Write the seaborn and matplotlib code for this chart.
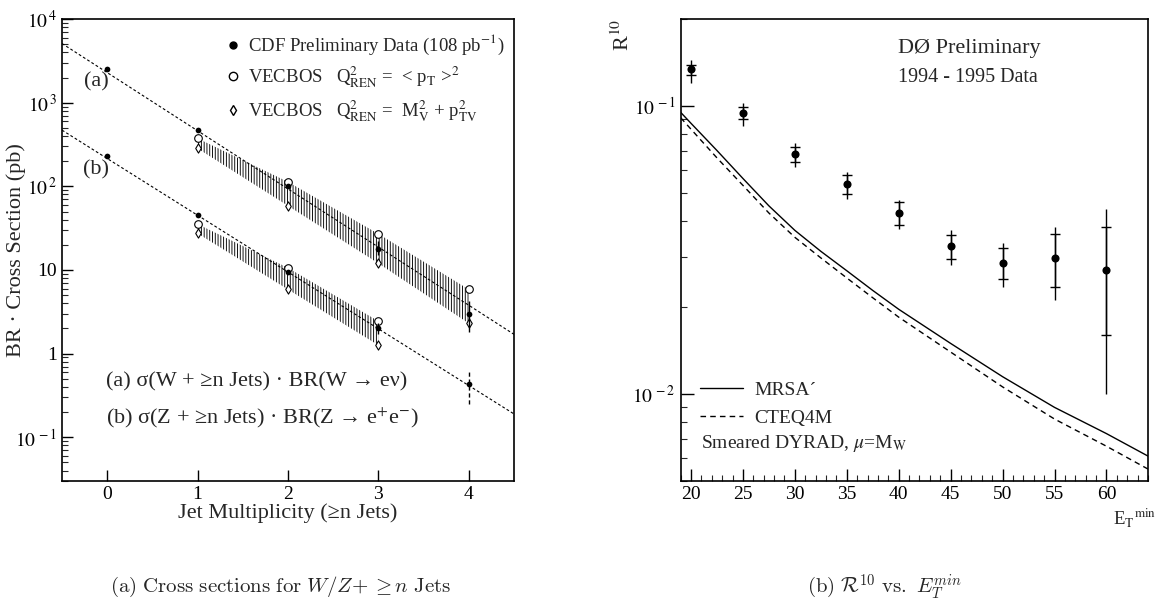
import numpy as np
import pandas as pd
import matplotlib
matplotlib.use("Agg")
import matplotlib.pyplot as plt
from matplotlib.lines import Line2D
import seaborn as sns

# ---------------- left panel data ----------------
n_jets = [0, 1, 2, 3, 4]
w_data = [2500, 470, 100, 18, 3.0]
w_lo = [2500, 470, 100, 15, 1.8]
w_hi = [2500, 470, 100, 22, 4.2]
z_data = [232, 45, 9.5, 2.0, 0.43]
z_lo = [232, 45, 9.5, 1.7, 0.25]
z_hi = [232, 45, 9.5, 2.3, 0.60]

n_band_w = [1, 2, 3, 4]
w_vec_pt = [374, 113, 27, 5.85]
w_vec_mv = [284, 58.5, 12, 2.3]
n_band_z = [1, 2, 3]
z_vec_pt = [35.3, 10.6, 2.44]
z_vec_mv = [27.4, 5.85, 1.26]

fit_x = [-0.5, 4.5]
w_fit = [5100, 1.7]
z_fit = [470, 0.19]

left_yticks = [1e-1, 1, 10, 1e2, 1e3, 1e4]
left_yticklabels = [r"$10^{\,-1}$", "1", "10", r"$10^{\,2}$", r"$10^{\,3}$", r"$10^{\,4}$"]

# ---------------- right panel data ----------------
et_min = [20, 25, 30, 35, 40, 45, 50, 55, 60]
r10 = [0.134, 0.0943, 0.0681, 0.0536, 0.0424, 0.0327, 0.0284, 0.0297, 0.0270]
stat_hi = [0.1388, 0.099, 0.0722, 0.0576, 0.0463, 0.0357, 0.0322, 0.0359, 0.0380]
stat_lo = [0.1282, 0.0901, 0.0641, 0.0495, 0.0386, 0.0295, 0.0250, 0.0235, 0.0160]
tot_hi = [0.1445, 0.1026, 0.0746, 0.0591, 0.0472, 0.0371, 0.0334, 0.0381, 0.0439]
tot_lo = [0.1205, 0.0852, 0.0615, 0.0474, 0.0373, 0.0280, 0.0236, 0.0212, 0.0100]

et_curve = [19, 20, 22.5, 25, 27.5, 30, 32.5, 35, 37.5, 40, 45, 50, 55, 60, 64]
mrsa = [0.095, 0.087, 0.070, 0.056, 0.045, 0.037, 0.0313, 0.0268, 0.0229, 0.0197,
        0.0150, 0.0115, 0.0090, 0.0073, 0.0061]
cteq = [0.091, 0.083, 0.066, 0.053, 0.0425, 0.035, 0.0297, 0.0253, 0.0216, 0.0185,
        0.0140, 0.0106, 0.0082, 0.0066, 0.0055]

right_xticks = [20, 25, 30, 35, 40, 45, 50, 55, 60]
right_yticks = [1e-2, 1e-1]
right_yticklabels = [r"$10^{\,-2}$", r"$10^{\,-1}$"]

# ---------------- style ----------------
sns.set_theme(style="ticks")
plt.rcParams["font.family"] = ["Liberation Serif", "DejaVu Serif"]
plt.rcParams["mathtext.fontset"] = "stix"
plt.rcParams["hatch.linewidth"] = 0.65
plt.rcParams["axes.linewidth"] = 1.2

fig = plt.figure(figsize=(11.61, 6.07), dpi=100)
axL = fig.add_axes([62 / 1161, 0.2076, 452 / 1161, 0.761])
axR = fig.add_axes([680.6 / 1161, 0.2076, 467.4 / 1161, 0.761])

FS = 14

# ======== left panel ========
axL.set_yscale("log")
for fy in (w_fit, z_fit):
    sns.lineplot(x=fit_x, y=fy, ax=axL, color="black", lw=0.8,
                 linestyle=(0, (2.5, 2)), legend=False)
axL.fill_between(n_band_w, w_vec_pt, w_vec_mv, facecolor="none", edgecolor="black",
                 hatch="||||||", linewidth=0)
axL.fill_between(n_band_z, z_vec_pt, z_vec_mv, facecolor="none", edgecolor="black",
                 hatch="||||||", linewidth=0)
dfw = pd.DataFrame({"n": n_band_w, "pt": w_vec_pt, "mv": w_vec_mv})
dfz = pd.DataFrame({"n": n_band_z, "pt": z_vec_pt, "mv": z_vec_mv})
for d in (dfw, dfz):
    sns.scatterplot(data=d, x="n", y="pt", ax=axL, marker="o", s=30,
                    facecolor="white", edgecolor="black", linewidth=0.8, zorder=4)
    sns.scatterplot(data=d, x="n", y="mv", ax=axL, marker="d", s=22,
                    facecolor="white", edgecolor="black", linewidth=0.8, zorder=4)
wd = np.array(w_data); zd = np.array(z_data)
axL.errorbar(n_jets, w_data, yerr=[wd - np.array(w_lo), np.array(w_hi) - wd],
             fmt="none", ecolor="black", elinewidth=1.0, zorder=5)
eb = axL.errorbar(n_jets, z_data, yerr=[zd - np.array(z_lo), np.array(z_hi) - zd],
                  fmt="none", ecolor="black", elinewidth=1.0, zorder=5)
eb[2][0].set_linestyle((0, (3, 2)))
sns.scatterplot(x=n_jets, y=w_data, ax=axL, color="black", s=17, linewidth=0, zorder=6)
sns.scatterplot(x=n_jets, y=z_data, ax=axL, color="black", s=17, linewidth=0, zorder=6)

axL.set_xlim(-0.5, 4.5)
axL.set_ylim(0.03, 1e4)
axL.set_xticks(n_jets)
axL.set_xticklabels([str(v) for v in n_jets])
axL.set_yticks(left_yticks)
axL.set_yticklabels(left_yticklabels)
axL.tick_params(axis="both", which="major", direction="in", length=8, width=1.0,
                labelsize=FS, colors="black")
axL.tick_params(axis="y", which="minor", direction="in", length=4, width=0.8)
axL.tick_params(axis="x", which="minor", bottom=False)
axL.set_xlabel("Jet Multiplicity (\u2265n Jets)", fontsize=16)
axL.set_ylabel("BR \u00b7 Cross Section (pb)", fontsize=16)
axL.xaxis.set_label_coords(0.5, -0.048)
axL.yaxis.set_label_coords(-0.08, 0.5)
for s in axL.spines.values():
    s.set_color("black")

handles = [
    Line2D([], [], marker="o", color="black", linestyle="none", markersize=5),
    Line2D([], [], marker="o", markerfacecolor="white", markeredgecolor="black",
           linestyle="none", markersize=6),
    Line2D([], [], marker="d", markerfacecolor="white", markeredgecolor="black",
           linestyle="none", markersize=5),
]
labels = [
    r"CDF Preliminary Data (108 pb$^{-1}$)",
    r"VECBOS   Q$^{2}_{\mathrm{REN}}$ =  < p$_{\mathrm{T}}$ >$^{2}$",
    r"VECBOS   Q$^{2}_{\mathrm{REN}}$ =  M$^{2}_{\mathrm{V}}$ + p$^{2}_{\mathrm{TV}}$",
]
axL.legend(handles, labels, loc="upper right", bbox_to_anchor=(1.0, 0.99),
           frameon=False, fontsize=13.5, handlelength=0.8, handletextpad=0.4,
           labelspacing=0.4, borderaxespad=0.1)

axL.text(0.075, 0.865, "(a)", transform=axL.transAxes, ha="center", va="center", fontsize=16)
axL.text(0.075, 0.673, "(b)", transform=axL.transAxes, ha="center", va="center", fontsize=16)
axL.text(0.097, 0.215, "(a) \u03c3(W + \u2265n Jets) \u00b7 BR(W \u2192 e\u03bd)",
         transform=axL.transAxes, ha="left", va="center", fontsize=16)
axL.text(0.097, 0.136, "(b) \u03c3(Z + \u2265n Jets) \u00b7 BR(Z \u2192 e$^{+}$e$^{-}$)",
         transform=axL.transAxes, ha="left", va="center", fontsize=16)

# ======== right panel ========
axR.set_yscale("log")
sns.lineplot(x=et_curve, y=mrsa, ax=axR, color="black", lw=1.0, legend=False)
sns.lineplot(x=et_curve, y=cteq, ax=axR, color="black", lw=1.0,
             linestyle=(0, (4, 3)), legend=False)
r = np.array(r10)
axR.errorbar(et_min, r10, yerr=[r - np.array(tot_lo), np.array(tot_hi) - r],
             fmt="none", ecolor="black", elinewidth=1.0, zorder=4)
axR.errorbar(et_min, r10, yerr=[r - np.array(stat_lo), np.array(stat_hi) - r],
             fmt="none", ecolor="black", elinewidth=1.0, capsize=3.5, capthick=1.0, zorder=4)
sns.scatterplot(x=et_min, y=r10, ax=axR, color="black", s=34, linewidth=0, zorder=6)

axR.set_xlim(19, 64)
axR.set_ylim(0.005, 0.2)
axR.set_xticks(right_xticks)
axR.set_xticklabels([str(v) for v in right_xticks])
axR.xaxis.set_minor_locator(matplotlib.ticker.MultipleLocator(1))
axR.set_yticks(right_yticks)
axR.set_yticklabels(right_yticklabels)
axR.yaxis.set_minor_formatter(matplotlib.ticker.NullFormatter())
axR.tick_params(axis="both", which="major", direction="in", length=9, width=1.0,
                labelsize=FS, colors="black")
axR.tick_params(axis="both", which="minor", direction="in", length=4.5, width=0.8)
for s in axR.spines.values():
    s.set_color("black")
axR.set_xlabel("")
axR.set_ylabel(r"R$^{10}$", fontsize=16)
axR.yaxis.set_label_coords(-0.10, 0.965)
axR.text(0.925, -0.08, r"E$_{\mathrm{T}}$$^{\mathrm{min}}$", transform=axR.transAxes,
         ha="left", va="center", fontsize=13.5)

axR.text(0.465, 0.937, "D\u00d8 Preliminary", transform=axR.transAxes, ha="left",
         va="center", fontsize=16)
axR.text(0.465, 0.874, "1994 - 1995 Data", transform=axR.transAxes, ha="left",
         va="center", fontsize=14.5)

rh = [Line2D([], [], color="black", lw=1.0),
      Line2D([], [], color="black", lw=1.0, linestyle=(0, (4, 3)))]
axR.legend(rh, ["MRSA\u00b4", "CTEQ4M"], loc="lower left", bbox_to_anchor=(0.025, 0.1),
           frameon=False, fontsize=FS, handlelength=2.2, handletextpad=0.6,
           labelspacing=0.55, borderaxespad=0.0)
axR.text(0.0434, 0.082, r"Smeared DYRAD, $\mu$=M$_{\mathrm{W}}$", transform=axR.transAxes,
         ha="left", va="center", fontsize=FS)

# ======== captions ========
fig.text(0.242, 0.033, r"$\mathrm{(a)\ Cross\ sections\ for\ }W/Z\!+\geq n\mathrm{\ Jets}$",
         ha="center", va="center", fontsize=15, math_fontfamily="cm")
fig.text(0.762, 0.033, r"$\mathrm{(b)\ }\mathcal{R}^{10}\mathrm{\ vs.\ }E_T^{min}$",
         ha="center", va="center", fontsize=15, math_fontfamily="cm")

fig.savefig("out.png", dpi=100)
